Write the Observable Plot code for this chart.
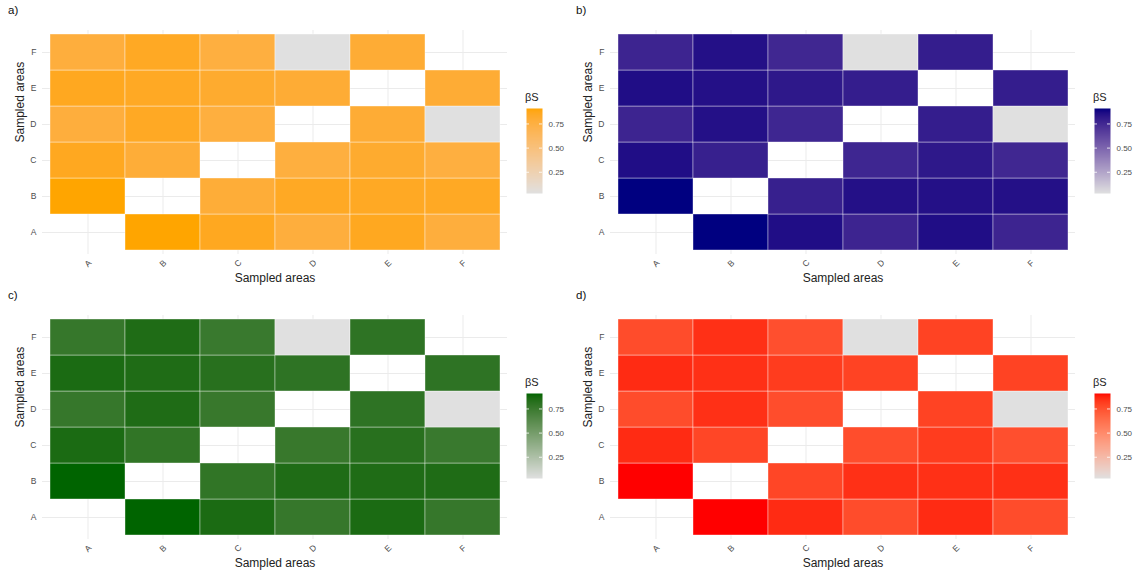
<!DOCTYPE html>
<html><head><meta charset="utf-8">
<script src="https://cdn.jsdelivr.net/npm/d3@7"></script>
<script src="https://cdn.jsdelivr.net/npm/@observablehq/plot@0.6"></script>
<style>
html,body{margin:0;padding:0;background:#fff;}
body{width:1139px;height:574px;position:relative;overflow:hidden;font-family:"Liberation Sans",Arial,sans-serif;}
.panel{position:absolute;width:569px;height:287px;}
.panel svg{position:absolute;left:0;top:0;overflow:visible;max-width:none !important;}
.tag{position:absolute;left:8px;top:4px;font-size:11.5px;color:#111;}
.ltitle{position:absolute;left:525px;top:91px;font-size:11px;color:#222;}
.legend{position:absolute;left:526px;top:108px;width:50px;height:85px;}
</style></head><body>
<script>
// ---- data ----
const areas = ["A","B","C","D","E","F"];
const pairFrom = ["A","A","A","A","A","B","B","B","B","C","C","C","D","D","E"];
const pairTo   = ["B","C","D","E","F","C","D","E","F","D","E","F","E","F","F"];
const betaA = [0.91,0.86,0.77,0.86,0.77,0.79,0.85,0.85,0.85,0.765,0.82,0.76,0.80,0.03,0.80];
const betaB = [0.91,0.86,0.77,0.86,0.77,0.79,0.85,0.85,0.85,0.765,0.82,0.76,0.80,0.03,0.80];
const betaC = [0.91,0.86,0.77,0.86,0.77,0.79,0.85,0.85,0.85,0.765,0.82,0.76,0.80,0.03,0.80];
const betaD = [0.91,0.86,0.77,0.86,0.77,0.79,0.85,0.85,0.85,0.765,0.82,0.76,0.80,0.03,0.80];
const panelTags = ["a)","b)","c)","d)"];
const highColors = ["#FFA500","#000080","#006400","#FF0000"];
const lowColor = "#e0e0e0";
const legendTicks = [0.25,0.5,0.75];
const axisTitle = "Sampled areas";
const legendTitle = "βS";

const panelValues = [betaA, betaB, betaC, betaD];
const panelPos = [[0,0],[568,0],[0,284.5],[568,284.5]];
const FONT = '"Liberation Sans", Arial, sans-serif';

function makePanel(i){
  const values = panelValues[i];
  const rows = [];
  pairFrom.forEach((f,k)=>{
    rows.push({x:f, y:pairTo[k], v:values[k]});
    rows.push({x:pairTo[k], y:f, v:values[k]});
  });
  const ext = d3.extent(values);
  const colorOpts = {type:"linear", domain:ext, range:[lowColor, highColors[i]], interpolate:"lab"};

  const div = document.createElement("div");
  div.className = "panel";
  div.style.left = panelPos[i][0] + "px";
  div.style.top = panelPos[i][1] + "px";
  document.body.appendChild(div);

  const main = Plot.plot({
    width: 569, height: 287,
    marginLeft: 42, marginRight: 62, marginTop: 30, marginBottom: 33,
    style: {fontFamily: FONT, background: "transparent"},
    x: {domain: areas, paddingInner: 0, paddingOuter: 0.1},
    y: {domain: areas.slice().reverse(), paddingInner: 0, paddingOuter: 0.1},
    color: colorOpts,
    marks: [
      Plot.gridX({stroke:"#ebebeb", strokeOpacity:1, strokeWidth:1}),
      Plot.gridY({stroke:"#ebebeb", strokeOpacity:1, strokeWidth:1}),
      Plot.cell(rows, {x:"x", y:"y", fill:"v", inset:0, stroke:"white", strokeWidth:0.7, strokeOpacity:0.55}),
      Plot.axisX({tickSize:0, tickPadding:9, tickRotate:-45, textAnchor:"middle", lineAnchor:"middle", fontSize:8.5, fill:"#4d4d4d", label:null}),
      Plot.axisY({tickSize:0, tickPadding:6, fontSize:8.5, fill:"#4d4d4d", label:null}),
      Plot.text([axisTitle], {text:d=>d, frameAnchor:"bottom", dy:27, fontSize:12, fill:"#222"}),
      Plot.text([axisTitle], {text:d=>d, frameAnchor:"left", rotate:-90, dx:-22, fontSize:12, fill:"#222"})
    ]
  });
  div.appendChild(main);

  const tag = document.createElement("div");
  tag.className = "tag";
  tag.textContent = panelTags[i];
  div.appendChild(tag);

  const lt = document.createElement("div");
  lt.className = "ltitle";
  lt.textContent = legendTitle;
  div.appendChild(lt);

  const leg = Plot.plot({
    width: 50, height: 85,
    marginLeft: 0, marginRight: 34, marginTop: 0, marginBottom: 0,
    style: {fontFamily: FONT, background: "transparent", overflow: "visible"},
    x: {domain:[0,1], axis:null},
    y: {domain: ext, axis:null},
    color: colorOpts,
    marks: [
      Plot.raster({fill:(x,y)=>y, x1:0, x2:1, y1:ext[0], y2:ext[1], width:1, height:170}),
      Plot.tickY(legendTicks, {y:d=>d, stroke:"white", strokeWidth:0.8, insetRight:13}),
      Plot.tickY(legendTicks, {y:d=>d, stroke:"white", strokeWidth:0.8, insetLeft:13}),
      Plot.axisY(legendTicks, {anchor:"right", tickSize:0, tickPadding:6, tickFormat:d3.format(".2f"), fontSize:8, fill:"#4d4d4d", label:null})
    ]
  });
  const lwrap = document.createElement("div");
  lwrap.className = "legend";
  lwrap.appendChild(leg);
  div.appendChild(lwrap);
}
[0,1,2,3].forEach(makePanel);
</script>
</body></html>
